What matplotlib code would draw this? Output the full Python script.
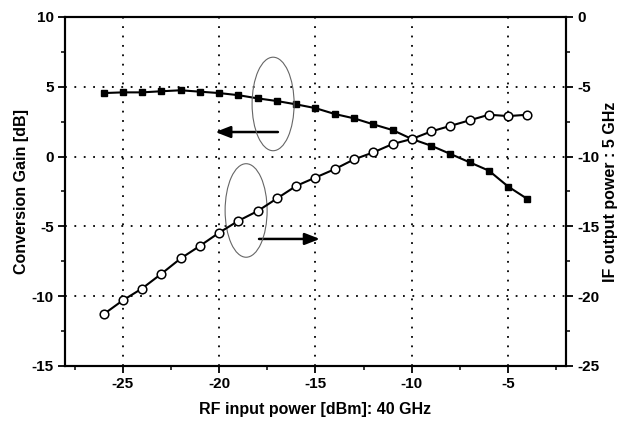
import numpy as np
import matplotlib.pyplot as plt
from matplotlib.patches import Ellipse
from matplotlib.ticker import MultipleLocator

plt.rcParams['font.family'] = ['Liberation Sans', 'DejaVu Sans']
plt.rcParams['font.weight'] = 'bold'
plt.rcParams['axes.unicode_minus'] = False

# RF input power [dBm]
rf_in = [-26, -25, -24, -23, -22, -21, -20, -19, -18, -17, -16, -15,
         -14, -13, -12, -11, -10, -9, -8, -7, -6, -5, -4]
# conversion gain [dB] (left axis)
gain = [4.55, 4.6, 4.6, 4.68, 4.75, 4.65, 4.55, 4.4, 4.17, 3.98, 3.74, 3.47,
        3.05, 2.74, 2.31, 1.9, 1.26, 0.78, 0.19, -0.41, -1.01, -2.15, -3.04]
# IF output power [dBm] (right axis)
if_out = [-21.3, -20.3, -19.45, -18.4, -17.3, -16.4, -15.45, -14.6, -13.9, -13.0,
          -12.1, -11.5, -10.9, -10.2, -9.7, -9.1, -8.74, -8.2, -7.8, -7.4,
          -7.0, -7.1, -7.0]

fig = plt.figure(figsize=(6.32, 4.28), dpi=100)
ax = fig.add_axes([0.1028, 0.1449, 0.7928, 0.8154])
ax2 = ax.twinx()

ax.plot(rf_in, gain, '-', color='black', lw=1.5, marker='s', ms=5,
        mfc='black', mec='black', zorder=3)
ax2.plot(rf_in, if_out, '-', color='black', lw=1.5, marker='o', ms=6.2,
         mfc='white', mec='black', mew=1.1, zorder=3)

ax.set_xlim(-28, -2)
ax.set_ylim(-15, 10)
ax2.set_ylim(-25, 0)

ax.xaxis.set_major_locator(MultipleLocator(5))
ax.xaxis.set_minor_locator(MultipleLocator(2.5))
ax.yaxis.set_major_locator(MultipleLocator(5))
ax.yaxis.set_minor_locator(MultipleLocator(2.5))
ax2.yaxis.set_major_locator(MultipleLocator(5))
ax2.yaxis.set_minor_locator(MultipleLocator(2.5))

ax.grid(True, which='major', color='black', lw=1.3, linestyle=(0, (1, 4.2)))

for a in (ax, ax2):
    a.tick_params(which='major', direction='out', length=5, width=1.3,
                  labelsize=11, pad=3)
    a.tick_params(which='minor', direction='out', length=3, width=1.1)
    for s in a.spines.values():
        s.set_linewidth(1.5)

ax.set_xlabel('RF input power [dBm]: 40 GHz', fontsize=11.5, fontweight='bold',
              labelpad=8)
ax.set_ylabel('Conversion Gain [dB]', fontsize=11.5, fontweight='bold', labelpad=2)
ax2.set_ylabel('IF output power : 5 GHz', fontsize=11.5, fontweight='bold',
               labelpad=3)

# ellipses marking each curve, arrows pointing to its axis
ax.add_patch(Ellipse((-17.2, 3.77), 2.18, 6.7, fill=False, ec='#666666', lw=0.8,
                     zorder=4))
ax.add_patch(Ellipse((-18.6, -3.86), 2.18, 6.7, fill=False, ec='#666666', lw=0.8,
                     zorder=4))
head = '-|>,head_length=0.9,head_width=0.35'
ax.annotate('', xy=(-20.2, 1.76), xytext=(-16.95, 1.76),
            arrowprops=dict(arrowstyle=head, color='black', lw=1.8,
                            shrinkA=0, shrinkB=0))
ax.annotate('', xy=(-14.77, -5.9), xytext=(-17.93, -5.9),
            arrowprops=dict(arrowstyle=head, color='black', lw=1.8,
                            shrinkA=0, shrinkB=0))

fig.savefig('out.png', dpi=100)
